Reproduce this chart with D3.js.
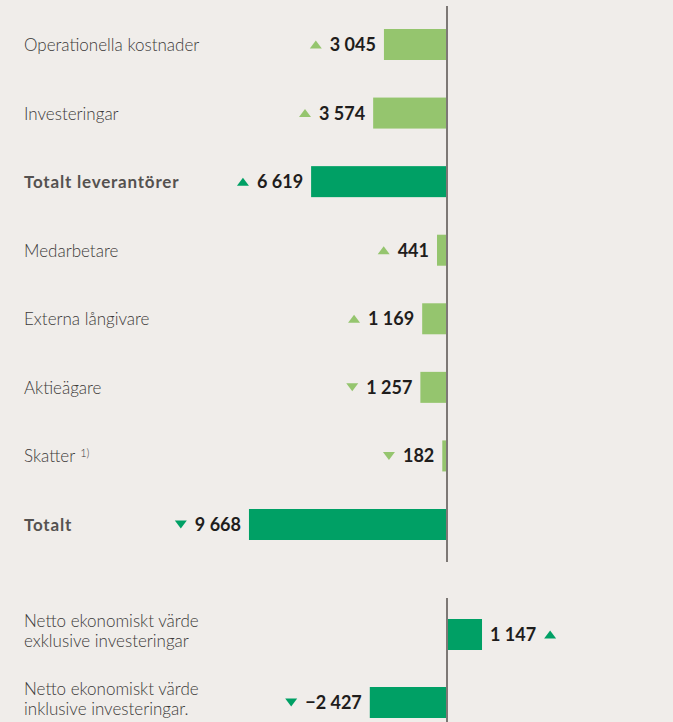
<!DOCTYPE html>
<html><head><meta charset="utf-8">
<script src="https://cdn.jsdelivr.net/npm/d3@7"></script>
<style>
html,body{margin:0;padding:0;background:#f0edea;}
svg{display:block;}
</style></head>
<body>
<script>
const categories = ["Operationella kostnader","Investeringar","Totalt leverantörer","Medarbetare","Externa långivare","Aktieägare","Skatter","Totalt"];
const values = [3045, 3574, 6619, 441, 1169, 1257, 182, 9668];
const valueLabels = ["3 045","3 574","6 619","441","1 169","1 257","182","9 668"];
const trends = ["up","up","up","up","up","down","down","down"];
const isTotal = [false,false,true,false,false,false,false,true];
const footnotes = ["","","","","","","1)",""];

const netCategories = [["Netto ekonomiskt värde","exklusive investeringar"],["Netto ekonomiskt värde","inklusive investeringar."]];
const netValues = [1147, -2427];
const netLabels = ["1 147","\u22122 427"];
const netTrends = ["up","down"];

const W = 673, H = 722;
const light = "#95c56e", dark = "#00a065";
const svg = d3.select("body").append("svg").attr("width", W).attr("height", H);
svg.append("rect").attr("width", W).attr("height", H).attr("fill", "#f0edea");

const x1 = d3.scaleLinear().domain([0, 10000]).range([446, 242.2]);
const y1 = d3.scalePoint().domain(categories).range([44.5, 524.5]);
const barH = 31;

const g1 = svg.append("g");
g1.selectAll("rect.bar").data(values).join("rect")
  .attr("x", d => x1(d)).attr("width", d => x1(0) - x1(d))
  .attr("y", (d,i) => y1(categories[i]) - barH/2).attr("height", barH)
  .attr("fill", (d,i) => isTotal[i] ? dark : light);

const labelFont = "Lato, 'Open Sans', sans-serif";
categories.forEach((c,i) => {
  const t = g1.append("text").attr("x", 24).attr("y", y1(c)).attr("dy", "0.38em")
    .attr("font-family", labelFont).attr("font-size", 17)
    .attr("font-weight", isTotal[i] ? 700 : 300)
    .attr("letter-spacing", isTotal[i] ? 0.8 : 0)
    .attr("fill", isTotal[i] ? "#555250" : "#3c3a39").text(c);
  if (footnotes[i]) {
    t.append("tspan").attr("dx", 5).attr("dy", "-0.45em").attr("font-size", 11).text(footnotes[i]);
  }
});

function tri(g, cx, cy, dir, color) {
  const w = 12, h = 8;
  const p = dir === "up"
    ? [[cx - w/2, cy + h/2], [cx + w/2, cy + h/2], [cx, cy - h/2]]
    : [[cx - w/2, cy - h/2], [cx + w/2, cy - h/2], [cx, cy + h/2]];
  g.append("path").attr("d", d3.line()(p) + "Z").attr("fill", color);
}

values.forEach((v,i) => {
  const cy = y1(categories[i]);
  const tx = x1(v) - 8;
  const t = g1.append("text").attr("x", tx).attr("y", cy).attr("dy", "0.36em")
    .attr("text-anchor", "end").attr("font-family", labelFont).attr("font-size", 18)
    .attr("font-weight", 700).attr("fill", "#1f1d1c").text(valueLabels[i]);
  const bw = t.node().getComputedTextLength();
  tri(g1, tx - bw - 14, cy, trends[i], isTotal[i] ? dark : light);
});

g1.append("line").attr("x1", x1(0)+1).attr("x2", x1(0)+1).attr("y1", 6).attr("y2", 562)
  .attr("stroke", "#7d7875").attr("stroke-width", 2);

// Net chart
const x2 = d3.scaleLinear().domain([0, 1000]).range([446, 477.4]);
const y2 = d3.scalePoint().domain([0,1]).range([634.5, 702.5]);
const g2 = svg.append("g");
g2.selectAll("rect").data(netValues).join("rect")
  .attr("x", d => Math.min(x2(d), x2(0))).attr("width", d => Math.abs(x2(d) - x2(0)))
  .attr("y", (d,i) => y2(i) - barH/2).attr("height", barH).attr("fill", dark);

netCategories.forEach((lines,i) => {
  const t = g2.append("text").attr("font-family", labelFont).attr("font-size", 17)
    .attr("font-weight", 300).attr("fill", "#3c3a39");
  lines.forEach((l,j) => t.append("tspan").attr("x", 24).attr("y", y2(i) - 8 + j*20).text(l));
});

netValues.forEach((v,i) => {
  const cy = y2(i);
  if (v >= 0) {
    const tx = x2(v) + 8;
    const t = g2.append("text").attr("x", tx).attr("y", cy).attr("dy", "0.36em")
      .attr("font-family", labelFont).attr("font-size", 18).attr("font-weight", 700)
      .attr("fill", "#1f1d1c").text(netLabels[i]);
    const bw = t.node().getComputedTextLength();
    tri(g2, tx + bw + 14, cy, netTrends[i], dark);
  } else {
    const tx = x2(v) - 8;
    const t = g2.append("text").attr("x", tx).attr("y", cy).attr("dy", "0.36em")
      .attr("text-anchor", "end").attr("font-family", labelFont).attr("font-size", 18)
      .attr("font-weight", 700).attr("fill", "#1f1d1c").text(netLabels[i]);
    const bw = t.node().getComputedTextLength();
    tri(g2, tx - bw - 14, cy, netTrends[i], dark);
  }
});

g2.append("line").attr("x1", x2(0)+1).attr("x2", x2(0)+1).attr("y1", 598).attr("y2", 722)
  .attr("stroke", "#7d7875").attr("stroke-width", 2);
</script>
</body></html>
